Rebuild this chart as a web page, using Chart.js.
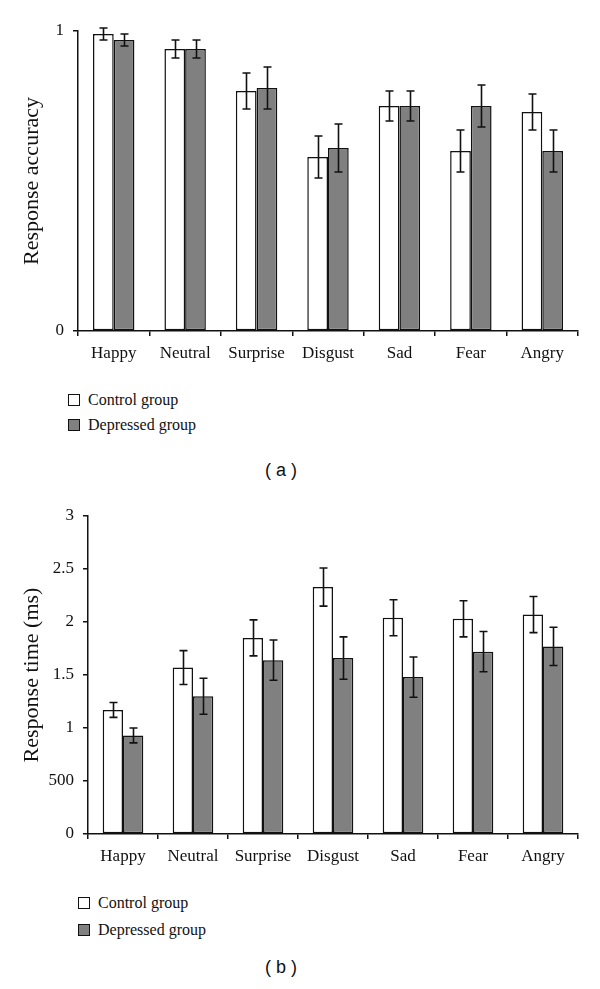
<!DOCTYPE html>
<html>
<head>
<meta charset="utf-8">
<script src="https://cdn.jsdelivr.net/npm/chart.js@4/dist/chart.umd.min.js"></script>
<style>
  html, body { margin: 0; padding: 0; background: #fff; }
  #page { position: relative; width: 600px; height: 989px; background: #fff; overflow: hidden; }
  .wrap { position: absolute; left: 0; width: 600px; }
  .legend { position: absolute; font-family: "Liberation Serif", "DejaVu Serif", serif; font-size: 16px; color: #111; }
  .legend .item { position: absolute; white-space: nowrap; height: 20px; line-height: 20px; }
  .legend .sw { position: absolute; left: 0; top: 4px; width: 10px; height: 10px; border: 1px solid #111; }
  .legend .tx { position: absolute; left: 20px; top: 0; }
  .caption { position: absolute; width: 600px; left: 0; text-align: left; font-family: "Liberation Sans", sans-serif; font-size: 18px; color: #111; }
</style>
</head>
<body>
<div id="page">
  <div class="wrap" style="top:0;height:380px;"><canvas id="c1"></canvas></div>
  <div class="legend" id="leg1" style="left:68px;top:390px;"></div>
  <div class="caption" style="top:460px;left:265px;width:60px;">( a )</div>
  <div class="wrap" style="top:480px;height:400px;"><canvas id="c2"></canvas></div>
  <div class="legend" id="leg2" style="left:78px;top:893px;"></div>
  <div class="caption" style="top:957px;left:265px;width:60px;">( b )</div>
</div>
<script>
// ---- data ----
const categories = ['Happy', 'Neutral', 'Surprise', 'Disgust', 'Sad', 'Fear', 'Angry'];
const seriesNames = ['Control group', 'Depressed group'];

const accControl      = [0.99, 0.94, 0.80, 0.58, 0.75, 0.60, 0.73];
const accControlErr   = [0.02, 0.03, 0.06, 0.07, 0.05, 0.07, 0.06];
const accDepressed    = [0.97, 0.94, 0.81, 0.61, 0.75, 0.75, 0.60];
const accDepressedErr = [0.02, 0.03, 0.07, 0.08, 0.05, 0.07, 0.07];

const rtControl      = [1.17, 1.57, 1.85, 2.33, 2.04, 2.03, 2.07];
const rtControlErr   = [0.07, 0.16, 0.17, 0.18, 0.17, 0.17, 0.17];
const rtDepressed    = [0.93, 1.30, 1.64, 1.66, 1.48, 1.72, 1.77];
const rtDepressedErr = [0.07, 0.17, 0.19, 0.20, 0.19, 0.19, 0.18];

const accTickLabels = ['0', '1'];
const rtTickLabels = ['0', '500', '1', '1.5', '2', '2.5', '3'];

const seriesColors = ['#ffffff', '#808080'];
const ink = '#111111';
const serif = '"Liberation Serif", "DejaVu Serif", serif';

// ---- error bar plugin ----
const errorBars = {
  id: 'errorBars',
  afterDatasetsDraw(chart) {
    const ctx = chart.ctx;
    const yScale = chart.scales.y;
    ctx.save();
    ctx.strokeStyle = ink;
    ctx.lineWidth = 1.6;
    chart.data.datasets.forEach((ds, di) => {
      const meta = chart.getDatasetMeta(di);
      meta.data.forEach((el, i) => {
        const v = ds.data[i], e = ds.errors[i];
        const x = Math.round(el.x) + 0.5;
        const yT = yScale.getPixelForValue(v + e);
        const yB = yScale.getPixelForValue(v - e);
        ctx.beginPath();
        ctx.moveTo(x, yT); ctx.lineTo(x, yB);
        ctx.moveTo(x - 4, yT); ctx.lineTo(x + 4, yT);
        ctx.moveTo(x - 4, yB); ctx.lineTo(x + 4, yB);
        ctx.stroke();
      });
    });
    ctx.restore();
  }
};

function makeChart(id, dataA, errA, dataB, errB, yOpts, yTitle, yWidth, pad) {
  return new Chart(document.getElementById(id), {
    type: 'bar',
    data: {
      labels: categories,
      datasets: [
        { label: seriesNames[0], data: dataA, errors: errA, backgroundColor: seriesColors[0], borderColor: ink, borderWidth: 1.5, borderSkipped: false },
        { label: seriesNames[1], data: dataB, errors: errB, backgroundColor: seriesColors[1], borderColor: ink, borderWidth: 1.5, borderSkipped: false }
      ]
    },
    options: {
      responsive: true,
      maintainAspectRatio: false,
      animation: false,
      datasets: { bar: { categoryPercentage: 0.58, barPercentage: 1.0 } },
      layout: { padding: pad },
      plugins: { legend: { display: false }, tooltip: { enabled: false } },
      scales: {
        x: {
          grid: { display: true, drawOnChartArea: false, drawTicks: true, tickLength: 5, color: ink, lineWidth: 1.5, offset: true },
          border: { color: ink, width: 1.5 },
          ticks: { color: ink, font: { family: serif, size: 17 }, padding: 7, maxRotation: 0, autoSkip: false },
          afterFit: s => { s.height = pad.xHeight; }
        },
        y: Object.assign({
          grid: { display: true, drawOnChartArea: false, drawTicks: true, tickLength: 5, color: ink, lineWidth: 1.5 },
          border: { color: ink, width: 1.5 },
          title: { display: true, text: yTitle, color: ink, font: { family: serif, size: 22 }, padding: { top: 19, bottom: 0 } },
          afterFit: s => { s.width = yWidth; }
        }, yOpts)
      }
    },
    plugins: [errorBars]
  });
}

makeChart('c1', accControl, accControlErr, accDepressed, accDepressedErr, {
  min: 0, max: 1,
  ticks: { stepSize: 1, color: ink, font: { family: serif, size: 17 }, padding: 9,
           callback: (v) => accTickLabels[Math.round(v)] }
}, 'Response accuracy', 78, { top: 31, right: 22, left: 0, bottom: 0, xHeight: 49 });

makeChart('c2', rtControl, rtControlErr, rtDepressed, rtDepressedErr, {
  min: 0, max: 3,
  ticks: { stepSize: 0.5, color: ink, font: { family: serif, size: 17 }, padding: 9,
           callback: (v) => rtTickLabels[Math.round(v / 0.5)] }
}, 'Response time (ms)', 88, { top: 36, right: 22, left: 0, bottom: 0, xHeight: 46 });

// ---- HTML legends ----
function buildLegend(id, gap) {
  const el = document.getElementById(id);
  seriesNames.forEach((name, i) => {
    const it = document.createElement('div');
    it.className = 'item';
    it.style.top = (i * gap) + 'px';
    it.innerHTML = '<span class="sw" style="background:' + seriesColors[i] + '"></span><span class="tx">' + name + '</span>';
    el.appendChild(it);
  });
}
buildLegend('leg1', 25);
buildLegend('leg2', 27);
</script>
</body>
</html>
